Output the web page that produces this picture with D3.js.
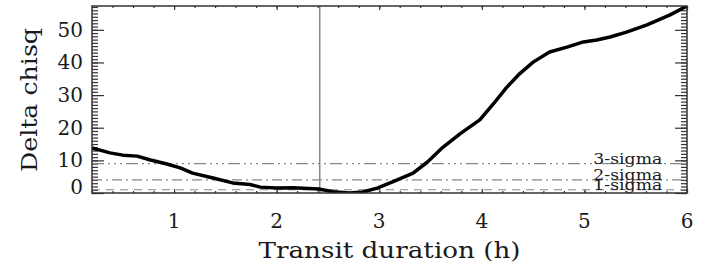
<!DOCTYPE html>
<html>
<head>
<meta charset="utf-8">
<script src="https://cdn.jsdelivr.net/npm/d3@7"></script>
<style>
  body { margin: 0; background: #fff; }
  text { font-family: "DejaVu Serif", serif; fill: #1a1a1a; }
</style>
</head>
<body>
<div id="chart"></div>
<script>
// transit duration (h) vs delta chisq
const durations = [0.20, 0.375, 0.50, 0.64, 0.77, 0.93, 1.06, 1.18, 1.38, 1.57, 1.74, 1.84, 2.00, 2.16, 2.41,
    2.55, 2.71, 2.84, 2.98, 3.13, 3.33, 3.47, 3.62, 3.79, 3.98, 4.11, 4.24, 4.37, 4.50, 4.66, 4.83,
    4.99, 5.12, 5.25, 5.41, 5.61, 5.83, 6.00];
const deltaChisq = [13.8, 12.3, 11.6, 11.3, 10.1, 8.9, 7.7, 6.1, 4.6, 3.1, 2.6, 1.8, 1.5, 1.6, 1.2,
    0.4, 0.0, 0.3, 1.5, 3.4, 6.1, 9.5, 14.0, 18.2, 22.4, 27.2, 32.3, 36.6, 40.1, 43.2, 44.7,
    46.3, 46.9, 47.8, 49.3, 51.5, 54.5, 57.3];

const xTickValues = [1, 2, 3, 4, 5, 6];
const yTickValues = [0, 10, 20, 30, 40, 50];
const sigmaLevels = [1, 4, 9];
const sigmaLabels = ["1-sigma", "2-sigma", "3-sigma"];
const bestDuration = 2.42;

const width = 718, height = 265;
const margin = {left: 92, right: 31, top: 6, bottom: 72};
const innerW = width - margin.left - margin.right;
const innerH = height - margin.top - margin.bottom;

const x = d3.scaleLinear().domain([0.2, 6]).range([0, innerW]);
const y = d3.scaleLinear().domain([0, 57.3]).range([innerH, 0]);

const svg = d3.select("#chart").append("svg")
    .attr("width", width)
    .attr("height", height);

const g = svg.append("g")
    .attr("transform", `translate(${margin.left},${margin.top})`);

g.append("clipPath").attr("id", "clip")
  .append("rect").attr("width", innerW).attr("height", innerH);

// minor tick positions
const xMinor = d3.range(0.2, 6.001, 0.2).map(v => +v.toFixed(2));
const yMinor = d3.range(0, 58, 1);

function tickAxis(axisFn, scale, values, size, tx, ty) {
    const a = g.append("g")
        .attr("transform", `translate(${tx},${ty})`)
        .call(axisFn(scale).tickValues(values).tickSize(size).tickFormat(""));
    a.select(".domain").remove();
    a.selectAll("line").attr("stroke", "#333").attr("stroke-width", 1.2);
    return a;
}

// ticks on all four sides, pointing inward
tickAxis(d3.axisLeft, y, yMinor, -6, 0, 0);
tickAxis(d3.axisLeft, y, yTickValues, -12, 0, 0);
tickAxis(d3.axisRight, y, yMinor, -6, innerW, 0);
tickAxis(d3.axisRight, y, yTickValues, -12, innerW, 0);
tickAxis(d3.axisBottom, x, xMinor, -2, 0, innerH);
tickAxis(d3.axisBottom, x, xTickValues, -4, 0, innerH);
tickAxis(d3.axisTop, x, xMinor, -2, 0, 0);
tickAxis(d3.axisTop, x, xTickValues, -4, 0, 0);

// tick labels
g.append("g").selectAll("text")
    .data(yTickValues)
    .join("text")
    .attr("x", -9)
    .attr("y", d => Math.min(y(d) + 7, innerH + 1))
    .attr("text-anchor", "end")
    .attr("font-size", 20)
    .text(d => d);

g.append("g").selectAll("text")
    .data(xTickValues)
    .join("text")
    .attr("x", d => x(d))
    .attr("y", innerH + 35)
    .attr("text-anchor", "middle")
    .attr("font-size", 20)
    .text(d => d);

// sigma levels
const dashes = ["8,6", "10,4,2,4", "12,4,2,4,2,4,2,4"];
g.append("g").selectAll("line")
    .data(sigmaLevels)
    .join("line")
    .attr("x1", 0)
    .attr("x2", innerW)
    .attr("y1", d => y(d))
    .attr("y2", d => y(d))
    .attr("stroke", "#888")
    .attr("stroke-width", 1.2)
    .attr("stroke-dasharray", (d, i) => dashes[i]);

g.append("g").selectAll("text")
    .data(sigmaLevels)
    .join("text")
    .attr("x", x(5.76))
    .attr("y", d => y(d))
    .attr("text-anchor", "end")
    .attr("font-size", 15)
    .attr("textLength", 69)
    .attr("lengthAdjust", "spacingAndGlyphs")
    .text((d, i) => sigmaLabels[i]);

// best fit marker
g.append("line")
    .attr("x1", x(bestDuration))
    .attr("x2", x(bestDuration))
    .attr("y1", 0)
    .attr("y2", innerH)
    .attr("stroke", "#888")
    .attr("stroke-width", 1.5);

// the curve
const line = d3.line()
    .x((d, i) => x(durations[i]))
    .y(d => y(d));

g.append("path")
    .datum(deltaChisq)
    .attr("clip-path", "url(#clip)")
    .attr("fill", "none")
    .attr("stroke", "#000")
    .attr("stroke-width", 3.5)
    .attr("stroke-linejoin", "round")
    .attr("d", line);

// frame
g.append("rect")
    .attr("width", innerW)
    .attr("height", innerH)
    .attr("fill", "none")
    .attr("stroke", "#333")
    .attr("stroke-width", 1.5);

// axis titles
svg.append("text")
    .attr("x", margin.left + x(3.1))
    .attr("y", 258)
    .attr("text-anchor", "middle")
    .attr("font-size", 22)
    .attr("textLength", 262)
    .attr("lengthAdjust", "spacingAndGlyphs")
    .text("Transit duration (h)");

svg.append("text")
    .attr("transform", "translate(37,100) rotate(-90)")
    .attr("text-anchor", "middle")
    .attr("font-size", 22)
    .attr("textLength", 144)
    .attr("lengthAdjust", "spacingAndGlyphs")
    .text("Delta chisq");
</script>
</body>
</html>
